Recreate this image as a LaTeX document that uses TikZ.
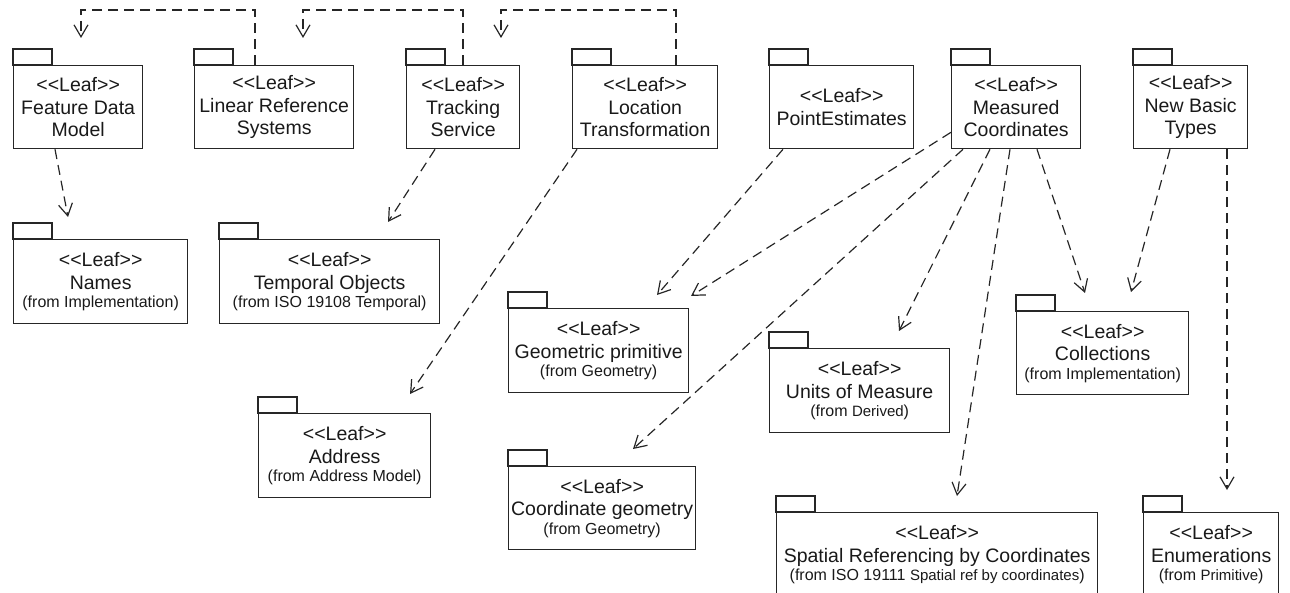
\documentclass[tikz,border=0pt]{standalone}
\usepackage{fontspec}
\setmainfont{Liberation Sans}
\usetikzlibrary{arrows.meta,calc}

\newcommand\bigtxt{\fontsize{19.5}{22.5}\selectfont}
\newcommand\smalltxt{\fontsize{16}{18}\selectfont}
\newcommand\tinytxt{\fontsize{15}{18}\selectfont}

% UML package: name, left, top of body, width, height, label
\newcommand\umlpkg[6]{%
  \node[pkgbody, minimum width=#4pt, minimum height=#5pt, anchor=north west] (#1) at (#2,#3) {#6};
  \draw[pkgline] (#1.north west) rectangle ++(39,-16);
}

\tikzset{
  pkgline/.style={draw=black!85, line width=1.3pt},
  pkgbody/.style={pkgline, inner sep=0pt, align=center, font=\bigtxt, text=black!90},
  dep/.style={draw=black!85, line width=1.2pt, dash pattern=on 10pt off 6pt,
              -{Straight Barb[length=12pt, width=14pt, line width=1.2pt]}},
}

\begin{document}
\begin{tikzpicture}[x=1pt, y=-1pt]
\useasboundingbox (0,0) rectangle (1290,593);
\clip (0,0) rectangle (1290,593);

% top row
\umlpkg{fdm}{13}{65}{129}{83}{<{}<Leaf>{}>\\Feature Data\\Model}
\umlpkg{lrs}{194}{65}{159}{83}{<{}<Leaf>{}>\\Linear Reference\\Systems}
\umlpkg{trk}{406}{65}{113}{83}{<{}<Leaf>{}>\\Tracking\\Service}
\umlpkg{loc}{572}{65}{145}{83}{<{}<Leaf>{}>\\Location\\Transformation}
\umlpkg{pte}{769}{65}{144}{83}{<{}<Leaf>{}>\\PointEstimates}
\umlpkg{mea}{951}{65}{129}{83}{<{}<Leaf>{}>\\Measured\\Coordinates}
\umlpkg{nbt}{1133}{65}{114}{83}{<{}<Leaf>{}>\\New Basic\\Types}

% imported packages
\umlpkg{names}{13}{239}{174}{84}{<{}<Leaf>{}>\\Names\\[-4pt]{\smalltxt (from Implementation)}}
\umlpkg{temp}{219}{239}{220}{84}{<{}<Leaf>{}>\\Temporal Objects\\[-4pt]{\smalltxt (from ISO 19108 Temporal)}}
\umlpkg{geo}{508}{308}{180}{84}{<{}<Leaf>{}>\\Geometric primitive\\[-4pt]{\smalltxt (from Geometry)}}
\umlpkg{addr}{258}{413}{172}{84}{<{}<Leaf>{}>\\Address\\[-4pt]{\smalltxt (from Address Model)}}
\umlpkg{coord}{508}{466}{187}{83}{<{}<Leaf>{}>\\Coordinate geometry\\[-4pt]{\smalltxt (from Geometry)}}
\umlpkg{units}{769}{348}{180}{84}{<{}<Leaf>{}>\\Units of Measure\\[-4pt]{\smalltxt (from {\tinytxt Derived})}}
\umlpkg{coll}{1016}{311}{172}{83}{<{}<Leaf>{}>\\Collections\\[-4pt]{\smalltxt (from Implementation)}}
\umlpkg{spat}{776}{512}{321}{84}{<{}<Leaf>{}>\\Spatial Referencing by Coordinates\\[-4pt]{\smalltxt (from ISO 19111 {\tinytxt Spatial ref by coordinates})}}
\umlpkg{enum}{1143}{512}{135}{84}{<{}<Leaf>{}>\\Enumerations\\[-4pt]{\smalltxt (from {\tinytxt Primitive})}}

% dependencies along the top
\draw[dep] ($(lrs.north west)+(61,0)$) -- ++(0,-55) -| ($(fdm.north west)+(68,-27)$);
\draw[dep] ($(trk.north west)+(57,0)$) -- ++(0,-55) -| ($(lrs.north west)+(109,-27)$);
\draw[dep] ($(loc.north west)+(104,0)$) -- ++(0,-55) -| ($(trk.north west)+(95,-27)$);

% dependencies to imported packages
\draw[dep] ($(fdm.south west)+(42,0)$) -- ($(names.north west)+(55,-22)$);
\draw[dep] ($(trk.south west)+(29,0)$) -- ($(temp.north west)+(169,-17)$);
\draw[dep] ($(loc.south west)+(5,0)$) -- ($(addr.north west)+(152,-19)$);
\draw[dep] ($(pte.south west)+(14,0)$) -- ($(geo.north west)+(149,-13)$);
\draw[dep] ($(mea.south west)+(0,-17)$) -- ($(geo.north west)+(183,-12)$);
\draw[dep] ($(mea.south west)+(12,0)$) -- ($(coord.north west)+(125,-17)$);
\draw[dep] ($(mea.south west)+(39,0)$) -- ($(units.north west)+(130,-17)$);
\draw[dep] ($(mea.south west)+(59,0)$) -- ($(spat.north west)+(181,-16)$);
\draw[dep] ($(mea.south west)+(86,0)$) -- ($(coll.north west)+(69,-18)$);
\draw[dep] ($(nbt.south west)+(37,0)$) -- ($(coll.north west)+(115,-19)$);
\draw[dep] ($(nbt.south west)+(94,0)$) -- ($(enum.north west)+(84,-22)$);
\end{tikzpicture}
\end{document}
